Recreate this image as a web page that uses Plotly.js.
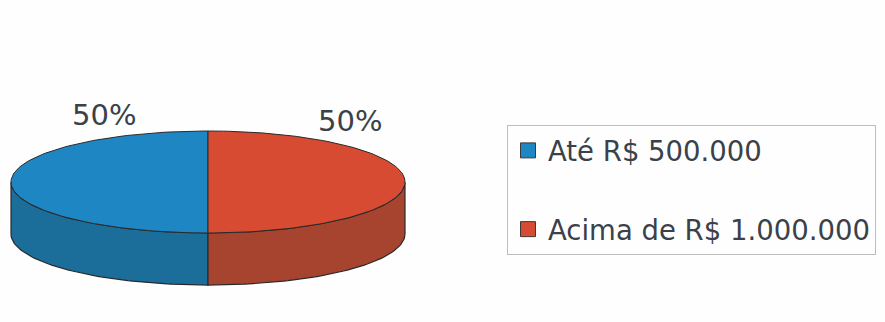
<!DOCTYPE html>
<html><head><meta charset="utf-8">
<script src="https://cdn.plot.ly/plotly-3.0.1.min.js"></script>
<style>html,body{margin:0;padding:0;background:#fefefe;}#chart{width:885px;height:322px;}</style>
</head><body><div id="chart"></div>
<script>
// ---- data ----
const categories = ['Até R$ 500.000', 'Acima de R$ 1.000.000'];
const values = [50, 50];
const labels = ['50%', '50%'];

// ---- styles ----
const topColors = ['#1f86c4', '#d64b31'];
const sideColors = ['#1b6e9a', '#a6442f'];
const edgeColor = '#2a2a2a';
const depth = 1.02;        // side thickness (in vertical radius units)
const startAngle = 90;     // degrees, counterclockwise
const labelNudge = [{dx: 0.53, y: 1.31}, {dx: 0.72, y: 1.19}];
const FONT = 'DejaVu Sans, Verdana, sans-serif';

const total = values.reduce((a, b) => a + b, 0);
const rad = d => d * Math.PI / 180;

function arc(a, b, dy) {
  const xs = [], ys = [];
  const n = Math.max(2, Math.ceil(Math.abs(b - a) / 1.5));
  for (let i = 0; i <= n; i++) {
    const t = rad(a + (b - a) * i / n);
    xs.push(Math.cos(t)); ys.push(Math.sin(t) + dy);
  }
  return {xs, ys};
}

const sideTraces = [], topTraces = [], legendTraces = [];
const annotations = [];
let acc = startAngle;
values.forEach((v, i) => {
  const a = acc, b = acc + 360 * v / total;
  acc = b;
  // visible side: front half (180..360 modulo 360)
  [-180, 180, 540].forEach(off => {
    const lo = Math.max(a, off), hi = Math.min(b, off + 180);
    if (hi > lo) {
      const t = arc(lo, hi, 0), bt = arc(hi, lo, -depth);
      sideTraces.push({
        type: 'scatter', mode: 'lines', fill: 'toself',
        x: t.xs.concat(bt.xs, [t.xs[0]]), y: t.ys.concat(bt.ys, [t.ys[0]]),
        fillcolor: sideColors[i], line: {color: edgeColor, width: 1.2},
        showlegend: false, hoverinfo: 'skip'
      });
    }
  });
  const t = arc(a, b, 0);
  topTraces.push({
    type: 'scatter', mode: 'lines', fill: 'toself',
    x: [0].concat(t.xs, [0]), y: [0].concat(t.ys, [0]),
    fillcolor: topColors[i], line: {color: edgeColor, width: 1},
    showlegend: false, hoverinfo: 'skip'
  });
  legendTraces.push({
    type: 'scatter', mode: 'markers', x: [null], y: [null], name: categories[i],
    legendgroup: 'g' + i,
    marker: {symbol: 'square', size: 15, color: topColors[i], line: {color: '#3a3a3a', width: 1}}
  });
  const mid = rad((a + b) / 2);
  annotations.push({
    x: Math.sign(Math.cos(mid)) * labelNudge[i].dx, y: labelNudge[i].y,
    xref: 'x', yref: 'y', text: labels[i], showarrow: false,
    font: {family: FONT, size: 29, color: '#3b4148'}
  });
});

const W = 885, H = 322, cx = 208, cy = 182, rxPx = 197, ryPx = 51;
const layout = {
  width: W, height: H,
  margin: {l: 0, r: 0, t: 0, b: 0},
  paper_bgcolor: '#fefefe', plot_bgcolor: '#fefefe',
  xaxis: {range: [-cx / rxPx, (W - cx) / rxPx], visible: false, fixedrange: true},
  yaxis: {range: [-(H - cy) / ryPx, cy / ryPx], visible: false, fixedrange: true},
  showlegend: true,
  legend: {
    x: 507 / W, y: 1 - 125 / H, xanchor: 'left', yanchor: 'top',
    bordercolor: '#bdbdbd', borderwidth: 1, bgcolor: '#fefefe',
    font: {family: FONT, size: 27.5, color: '#3b4148'},
    traceorder: 'grouped', tracegroupgap: 40
  },
  annotations: annotations,
  hovermode: false
};

Plotly.newPlot('chart', sideTraces.concat(topTraces, legendTraces), layout, {displayModeBar: false, staticPlot: true});
</script>
</body></html>
